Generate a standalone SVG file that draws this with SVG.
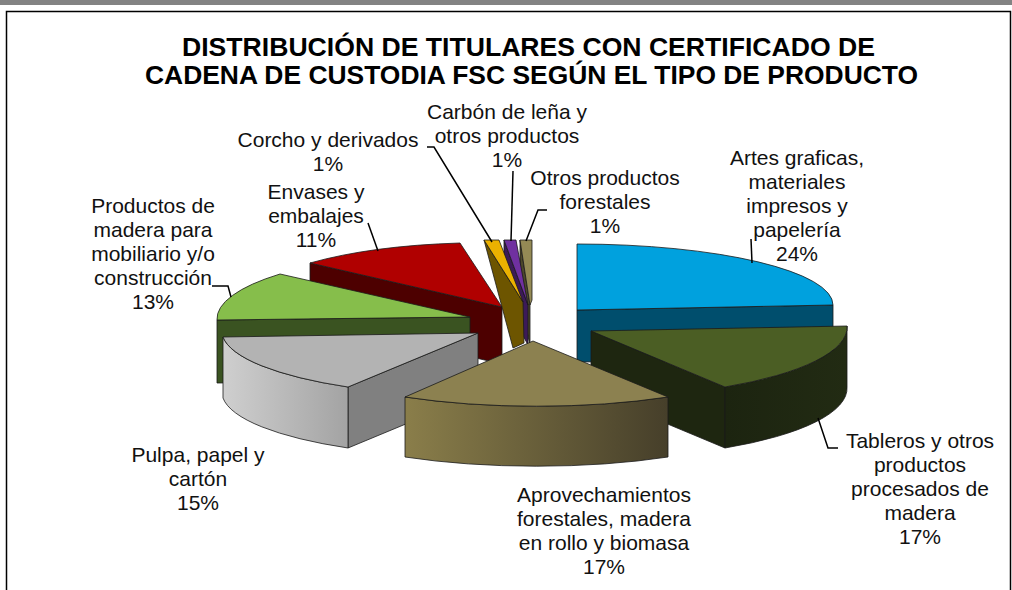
<svg xmlns="http://www.w3.org/2000/svg" width="1012" height="590" viewBox="0 0 1012 590">
<defs>
<linearGradient id="gGray" x1="0" y1="0" x2="1" y2="0"><stop offset="0" stop-color="#CFCFCF"/><stop offset="1" stop-color="#A3A3A3"/></linearGradient>
<linearGradient id="gKhaki" x1="0" y1="0" x2="1" y2="0"><stop offset="0" stop-color="#8A7E4A"/><stop offset="1" stop-color="#463F2A"/></linearGradient>
<linearGradient id="gDkGreen" x1="0" y1="0" x2="1" y2="0"><stop offset="0" stop-color="#1C2410"/><stop offset="1" stop-color="#222B13"/></linearGradient>
</defs>
<style>
.f{stroke:#1a1a1a;stroke-width:0.8;stroke-linejoin:round}
.lbl{font-family:"Liberation Sans",Arial,sans-serif;font-size:21px;fill:#111;text-anchor:middle}
.ttl{font-family:"Liberation Sans",Arial,sans-serif;font-size:25px;font-weight:bold;fill:#000}
.ld{fill:none;stroke:#000;stroke-width:1.5}
</style>
<rect width="1012" height="590" fill="#fff"/>
<rect x="0" y="0" width="1012" height="5" fill="#838383"/>
<path d="M6.5,590 V11.5 H1010.5 V590" fill="none" stroke="#000" stroke-width="1.5"/>
<g id="title">
<text class="ttl" x="182" y="56" textLength="693" lengthAdjust="spacingAndGlyphs">DISTRIBUCIÓN DE TITULARES CON CERTIFICADO DE</text>
<text class="ttl" x="145" y="84" textLength="773" lengthAdjust="spacingAndGlyphs">CADENA DE CUSTODIA FSC SEGÚN EL TIPO DE PRODUCTO</text>
</g>
<g id="slice-artes">
<path class="f" d="M577,310 L833,305 L833,360 L577,362 Z" fill="#004E6D"/>
<path class="f" d="M577,310 L577,244 A256,61 0 0 1 833,305 Z" fill="#00A1DE"/>
</g>
<g id="slice-envases">
<path class="f" d="M310,263 L502,307 L502,364 L310,320 Z" fill="#4D0000"/>
<path class="f" d="M502,307 L310,263 A247,67 0 0 1 460,243 Z" fill="#B00000"/>
</g>
<g id="slice-otros">
<path class="f" d="M520,240 L530,305 L530,345 L520,300 Z" fill="#4D482B"/>
<path class="f" d="M520,240 L532,240 L532,300 L530,305 Z" fill="#948A55"/>
</g>
<g id="slice-carbon">
<path class="f" d="M504,240 L528,305 L528,345 L504,300 Z" fill="#3C1A58"/>
<path class="f" d="M504,240 L516,240 L528,305 Z" fill="#7030A0"/>
</g>
<g id="slice-corcho">
<path class="f" d="M484,240 L523,302 L524,343 L513,348 Z" fill="#6D5500"/>
<path class="f" d="M484,240 L499,240 L523,302 Z" fill="#EBB100"/>
</g>
<g id="slice-productos-madera">
<path class="f" d="M217,320 L470,317 L470,380 L217,383 Z" fill="#3A5321"/>
<path class="f" d="M470,317 L217,320 A253,68 0 0 1 280,274 Z" fill="#86BE4B"/>
</g>
<g id="slice-pulpa">
<path class="f" d="M478,333 L348,387 L348,448 L478,394 Z" fill="#808080"/>
<path class="f" d="M223,337 A255,65 0 0 0 348,387 L348,448 A255,65 0 0 1 223,398 Z" fill="url(#gGray)"/>
<path class="f" d="M478,333 L348,387 A255,65 0 0 1 223,337 Z" fill="#B3B3B3"/>
</g>
<g id="slice-tableros">
<path class="f" d="M591,331 L725,387 L725,448 L591,392 Z" fill="#1E2610"/>
<path class="f" d="M847,326 A256,70 0 0 1 725,387 L725,448 A256,70 0 0 0 847,387 Z" fill="url(#gDkGreen)"/>
<path class="f" d="M591,331 L847,326 A256,70 0 0 1 725,387 Z" fill="#4B5E24"/>
</g>
<g id="slice-aprovechamientos">
<path class="f" d="M405,397 A260,67 0 0 0 668,397 L668,457 A260,67 0 0 1 405,457 Z" fill="url(#gKhaki)"/>
<path class="f" d="M533,341 L668,397 A260,67 0 0 1 405,397 Z" fill="#8C8150"/>
</g>
<g id="connectors">
<path class="ld" d="M751,239 L752,263"/>
<path class="ld" d="M818,418 L828,448 L838,448"/>
<path class="ld" d="M212,286 L228,286 L231,297"/>
<path class="ld" d="M368,223 L378,251"/>
<path class="ld" d="M427,147 L434,147 L492,242"/>
<path class="ld" d="M513,171 L511,241"/>
<path class="ld" d="M547,210 L538,210 L526,241"/>
</g>
<g id="labels">
<text class="lbl" x="797" y="165">Artes graficas,</text>
<text class="lbl" x="797" y="189">materiales</text>
<text class="lbl" x="797" y="213">impresos y</text>
<text class="lbl" x="797" y="237">papelería</text>
<text class="lbl" x="797" y="261">24%</text>
<text class="lbl" x="920" y="448">Tableros y otros</text>
<text class="lbl" x="920" y="472">productos</text>
<text class="lbl" x="920" y="496">procesados de</text>
<text class="lbl" x="920" y="520">madera</text>
<text class="lbl" x="920" y="544">17%</text>
<text class="lbl" x="604" y="502">Aprovechamientos</text>
<text class="lbl" x="604" y="526">forestales, madera</text>
<text class="lbl" x="604" y="550">en rollo y biomasa</text>
<text class="lbl" x="604" y="574">17%</text>
<text class="lbl" x="198" y="462">Pulpa, papel y</text>
<text class="lbl" x="198" y="486">cartón</text>
<text class="lbl" x="198" y="510">15%</text>
<text class="lbl" x="153" y="213">Productos de</text>
<text class="lbl" x="153" y="237">madera para</text>
<text class="lbl" x="153" y="261">mobiliario y/o</text>
<text class="lbl" x="153" y="285">construcción</text>
<text class="lbl" x="153" y="309">13%</text>
<text class="lbl" x="316" y="199">Envases y</text>
<text class="lbl" x="316" y="223">embalajes</text>
<text class="lbl" x="316" y="247">11%</text>
<text class="lbl" x="328" y="147">Corcho y derivados</text>
<text class="lbl" x="328" y="171">1%</text>
<text class="lbl" x="507" y="119">Carbón de leña y</text>
<text class="lbl" x="507" y="143">otros productos</text>
<text class="lbl" x="507" y="167">1%</text>
<text class="lbl" x="605" y="185">Otros productos</text>
<text class="lbl" x="605" y="209">forestales</text>
<text class="lbl" x="605" y="233">1%</text>
</g>
</svg>
